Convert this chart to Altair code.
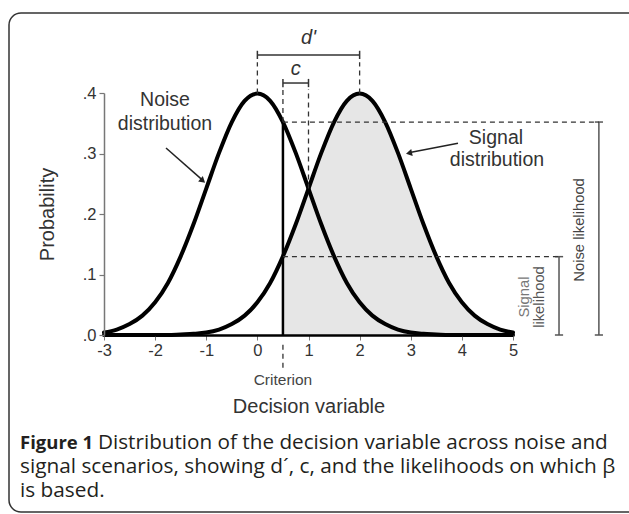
import altair as alt
import pandas as pd

# ---- data ----
x_grid = [-3.0, -2.75, -2.5, -2.25, -2.0, -1.75, -1.5, -1.25, -1.0, -0.75, -0.5, -0.25,
          0.0, 0.25, 0.5, 0.75, 1.0, 1.25, 1.5, 1.75, 2.0, 2.25, 2.5, 2.75,
          3.0, 3.25, 3.5, 3.75, 4.0, 4.25, 4.5, 4.75, 5.0]
noise_y = [0.004, 0.009, 0.018, 0.032, 0.054, 0.086, 0.130, 0.183, 0.242, 0.301, 0.352, 0.387,
           0.399, 0.387, 0.352, 0.301, 0.242, 0.183, 0.130, 0.086, 0.054, 0.032, 0.018, 0.009,
           0.004, 0.002, 0.001, 0.0, 0.0, 0.0, 0.0, 0.0, 0.0]
signal_y = [0.0, 0.0, 0.0, 0.0, 0.0, 0.0, 0.001, 0.002, 0.004, 0.009, 0.018, 0.032,
            0.054, 0.086, 0.130, 0.183, 0.242, 0.301, 0.352, 0.387, 0.399, 0.387, 0.352, 0.301,
            0.242, 0.183, 0.130, 0.086, 0.054, 0.032, 0.018, 0.009, 0.004]
noise_mean = 0.0
signal_mean = 2.0
criterion = 0.5
noise_at_criterion = 0.352
signal_at_criterion = 0.1295
curves_cross = 0.242
x_ticks = [-3, -2, -1, 0, 1, 2, 3, 4, 5]
y_ticks = [0.0, 0.1, 0.2, 0.3, 0.4]

caption_bold = "Figure 1"
caption_lines = ["Distribution of the decision variable across noise and",
                 "signal scenarios, showing d\u00b4, c, and the likelihoods on which \u03b2",
                 "is based."]

# ---- tables ----
curves = pd.DataFrame({
    "x": x_grid * 2,
    "y": noise_y + signal_y,
    "series": ["Noise"] * len(x_grid) + ["Signal"] * len(x_grid),
})
shade = pd.DataFrame({"x": x_grid, "y": signal_y})
shade = shade[shade["x"] >= criterion]

W, H = 409, 242
PL, PT = 104, 93

xs = alt.Scale(domain=[-3, 5], nice=False, zero=False)
ys = alt.Scale(domain=[0, 0.4], nice=False, zero=False)

FONT = "Liberation Sans"
LABEL_SIZE = 16.5

x_axis = alt.Axis(values=x_ticks, labelExpr="'' + datum.value", title="Decision variable",
                  domainColor="black", domainWidth=2.5,
                  tickColor="#777777", tickSize=5, tickWidth=1,
                  labelFont=FONT, labelFontSize=LABEL_SIZE, labelColor="#333333",
                  labelPadding=2, labelFlush=False, grid=False, zindex=1,
                  titleFont=FONT, titleFontSize=20, titleFontWeight="normal",
                  titleColor="#333333", titlePadding=38)
y_axis = alt.Axis(values=y_ticks, format=".1f",
                  labelExpr="replace(datum.label, '0.', '.')",
                  title="Probability", domainColor="#777777", domainWidth=1.5,
                  tickColor="#777777", tickSize=5, tickWidth=1.2,
                  labelFont=FONT, labelFontSize=LABEL_SIZE, labelColor="#333333",
                  labelPadding=3, labelFlush=False, grid=False, zindex=1,
                  titleFont=FONT, titleFontSize=20, titleFontWeight="normal",
                  titleColor="#333333", titlePadding=25)


def X(field="x"):
    return alt.X(f"{field}:Q", scale=xs, axis=x_axis)


def Y(field="y"):
    return alt.Y(f"{field}:Q", scale=ys, axis=y_axis)


border = alt.Chart(alt.Data(values=[{}])).mark_rect(
    cornerRadius=12, fill="white", fillOpacity=0, stroke="#333333", strokeWidth=1.5
).encode(
    x=alt.value(9 - PL), x2=alt.value(640 - PL),
    y=alt.value(13 - PT), y2=alt.value(512 - PT),
)

area = alt.Chart(shade).mark_area(color="#e6e6e6", interpolate="monotone").encode(
    x=X(), y=Y()
)

crit_line = alt.Chart(pd.DataFrame({"x": [criterion], "y": [0.0], "y2": [noise_at_criterion]})).mark_rule(
    color="black", strokeWidth=2.5
).encode(x=X(), y=Y(), y2="y2:Q")

lines = alt.Chart(curves).mark_line(color="black", strokeWidth=4, interpolate="monotone",
                                     strokeCap="round").encode(
    x=X(), y=Y(), detail="series:N"
)

# solid annotation bars (d', c) and caps
d_bar_y = 0.463
c_bar_y = 0.4165
cap = 0.0068
solid_rules = pd.DataFrame({
    "x":  [noise_mean, noise_mean, signal_mean, criterion, criterion, 1.0],
    "x2": [signal_mean, noise_mean, signal_mean, 1.0, criterion, 1.0],
    "y":  [d_bar_y, d_bar_y - cap, d_bar_y - cap, c_bar_y, c_bar_y - cap, c_bar_y - cap],
    "y2": [d_bar_y, d_bar_y + cap, d_bar_y + cap, c_bar_y, c_bar_y + cap, c_bar_y + cap],
})
bars = alt.Chart(solid_rules).mark_rule(color="#333333", strokeWidth=1.5).encode(
    x=X(), x2="x2:Q", y=Y(), y2="y2:Q"
)

# likelihood brackets
noise_br_x = 6.68
signal_br_x = 5.90
bcap = 0.08
bracket_rules = pd.DataFrame({
    "x":  [noise_br_x, noise_br_x - bcap, noise_br_x - bcap, signal_br_x, signal_br_x - bcap, signal_br_x - bcap],
    "x2": [noise_br_x, noise_br_x + bcap, noise_br_x + bcap, signal_br_x, signal_br_x + bcap, signal_br_x + bcap],
    "y":  [0.0, 0.0, noise_at_criterion, 0.0, 0.0, signal_at_criterion],
    "y2": [noise_at_criterion, 0.0, noise_at_criterion, signal_at_criterion, 0.0, signal_at_criterion],
})
brackets = alt.Chart(bracket_rules).mark_rule(color="#555555", strokeWidth=1.5).encode(
    x=X(), x2="x2:Q", y=Y(), y2="y2:Q"
)

# dashed guides
dashed_rules = pd.DataFrame({
    "x":  [noise_mean, signal_mean, criterion, 1.0, criterion, criterion, criterion],
    "x2": [noise_mean, signal_mean, criterion, 1.0, noise_br_x, signal_br_x, criterion],
    "y":  [0.399, 0.399, noise_at_criterion, curves_cross, noise_at_criterion, signal_at_criterion, -0.016],
    "y2": [d_bar_y - 0.012, d_bar_y - 0.012, c_bar_y - 0.01, c_bar_y - 0.01,
           noise_at_criterion, signal_at_criterion, -0.055],
})
dashed = alt.Chart(dashed_rules).mark_rule(color="#333333", strokeWidth=1.3, strokeDash=[5, 4]).encode(
    x=X(), x2="x2:Q", y=Y(), y2="y2:Q"
)

# arrows
arrow_df = pd.DataFrame({
    "x": [-1.787, 3.924], "y": [0.309, 0.317],
    "x2": [-1.10, 3.01], "y2": [0.258, 0.302],
})
arrow_lines = alt.Chart(arrow_df).mark_rule(color="#222222", strokeWidth=1.5).encode(
    x=X(), x2="x2:Q", y=Y(), y2="y2:Q"
)
head_df = pd.DataFrame({"x": [-1.083, 2.985], "y": [0.256, 0.301], "angle": [131.6, 258.0]})
arrow_heads = alt.Chart(head_df).mark_point(shape="triangle", filled=True, color="#222222",
                                           size=50, opacity=1).encode(
    x=X(), y=Y(), angle=alt.Angle("angle:Q", scale=None)
)

# labels
label_df = pd.DataFrame({
    "x": [-1.807, -1.807, 4.667, 4.687],
    "y": [0.388, 0.349, 0.325, 0.289],
    "t": ["Noise", "distribution", "Signal", "distribution"],
})
labels = alt.Chart(label_df).mark_text(font=FONT, fontSize=19.5, color="#333333",
                                       baseline="middle", align="center").encode(
    x=X(), y=Y(), text="t:N"
)
ital_df = pd.DataFrame({"x": [1.0, 0.75], "y": [0.491, 0.44], "t": ["d'", "c"]})
ital = alt.Chart(ital_df).mark_text(font=FONT, fontSize=20, fontStyle="italic", color="#333333",
                                    baseline="middle", align="center").encode(
    x=X(), y=Y(), text="t:N"
)
crit_label = alt.Chart(pd.DataFrame({"x": [criterion], "y": [-0.0744], "t": ["Criterion"]})).mark_text(
    font=FONT, fontSize=15.5, color="#444444", baseline="middle", align="center"
).encode(x=X(), y=Y(), text="t:N")

rot_df = pd.DataFrame({
    "x": [6.31, 5.235, 5.528], "y": [0.1736, 0.0628, 0.0628],
    "t": ["Noise likelihood", "Signal", "likelihood"],
    "c": ["#444444", "#777777", "#555555"],
})
rot = alt.Chart(rot_df).mark_text(font=FONT, fontSize=14.8, angle=270, baseline="middle",
                                  align="center").encode(
    x=X(), y=Y(), text="t:N", color=alt.Color("c:N", scale=None)
)

# caption
CAPFONT = "Open Sans"


def cap_text(t, px, py, size, weight="normal"):
    return alt.Chart(alt.Data(values=[{"t": t}])).mark_text(
        font=CAPFONT, fontSize=size, fontWeight=weight, color="#231f20",
        align="left", baseline="middle"
    ).encode(x=alt.value(px - PL), y=alt.value(py - PT), text="t:N")


caps = [
    cap_text(caption_bold, 20, 443, 18.5, "bold"),
    cap_text(caption_lines[0], 98, 443, 20.7),
    cap_text(caption_lines[1], 20, 467, 20.8),
    cap_text(caption_lines[2], 20, 491, 20.8),
]

chart = alt.layer(
    border, area, crit_line, lines, bars, brackets, dashed, arrow_lines, arrow_heads,
    labels, ital, crit_label, rot, *caps
).properties(
    width=W, height=H,
    padding={"left": PL, "top": PT, "right": 629 - PL - W, "bottom": 514 - PT - H},
    autosize=alt.AutoSizeParams(type="none"),
    background="white",
).configure_view(stroke=None).configure_axis(
    labelFont=FONT, labelFontSize=LABEL_SIZE, labelFlush=False
)

chart.save("out.html", embed_options={"renderer": "svg", "actions": False})
